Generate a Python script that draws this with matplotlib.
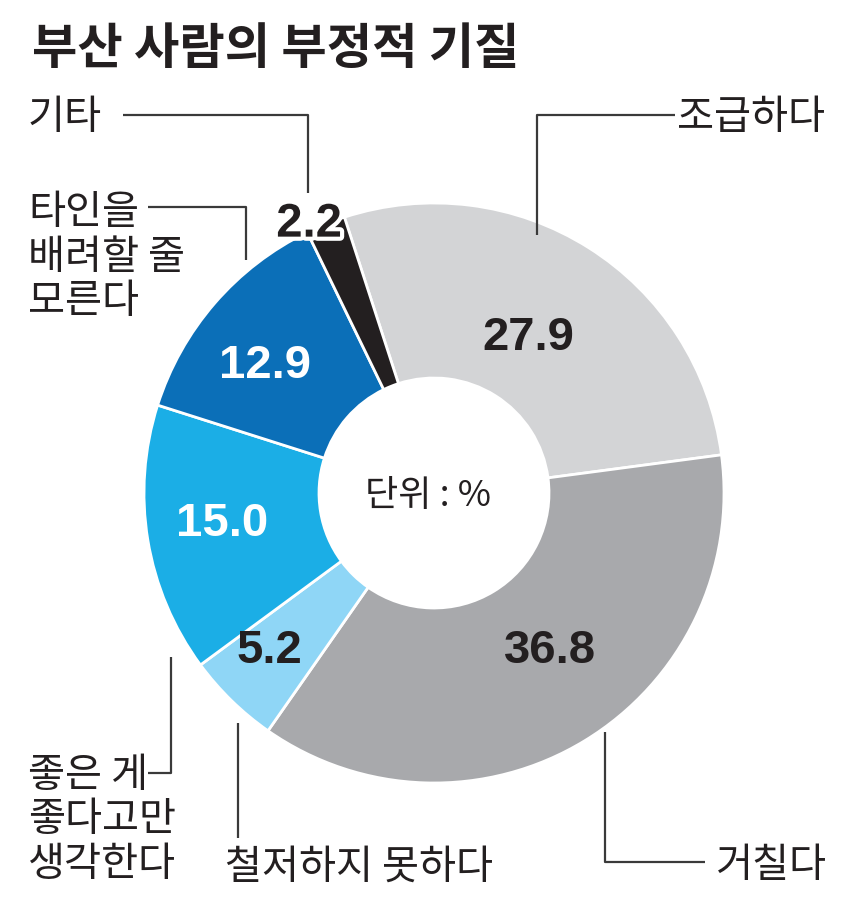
import numpy as np
import matplotlib
matplotlib.use("Agg")
import matplotlib.pyplot as plt
import matplotlib.patheffects as pe

plt.rcParams['font.family'] = ['Noto Sans CJK KR', 'DejaVu Sans']

title = "부산 사람의 부정적 기질"
unitText = "단위 : %"

# clockwise from the top
categories = ["조급하다", "거칠다", "철저하지 못하다", "좋은 게\n좋다고만\n생각한다", "타인을\n배려할 줄\n모른다", "기타"]
values = [27.9, 36.8, 5.2, 15.0, 12.9, 2.2]
colors = ["#d3d4d6", "#a8a9ac", "#8fd6f6", "#1baee6", "#0b6fb8", "#231f20"]
numColors = ["#231f20", "#231f20", "#231f20", "white", "white", "#231f20"]
numRadius = [181, 196, 228, 214, 211, 296]
numShift = [1, 5, -2, -1, 4, 3]   # degrees, turning the label off the wedge middle

W, H = 850, 913
cx, cy = 434, 493
rOuter, rInner = 290, 115

fig = plt.figure(figsize=(W / 100, H / 100), dpi=100)
ax = fig.add_axes([0, 0, 1, 1])

# y axis runs downward (pixel-like), so the pie turns clockwise with counterclock=True
startAngle = -108
wedges, _ = ax.pie(values, colors=colors, startangle=startAngle, counterclock=True,
                   center=(cx, cy), radius=rOuter, frame=True,
                   wedgeprops=dict(width=rOuter - rInner, edgecolor="white", linewidth=2))

ax.set_xlim(0, W)
ax.set_ylim(H, 0)
ax.set_aspect("equal")
ax.axis("off")

# value labels near the middle of each wedge
total = sum(values)
angle = startAngle
for val, col, r, sh in zip(values, numColors, numRadius, numShift):
	mid = np.deg2rad(angle + val / total * 360 / 2 - sh)
	angle += val / total * 360
	tx = cx + r * np.cos(mid)
	ty = cy + r * np.sin(mid)
	t = ax.text(tx, ty, "%.1f" % val, color=col, fontsize=34, fontweight="bold",
				family="Liberation Sans", ha="center", va="center")
	if val < 3:
		t.set_path_effects([pe.withStroke(linewidth=6, foreground="white")])

ax.text(cx - 6, cy + 3, unitText, fontsize=26, color="#231f20", ha="center", va="center")

ax.text(32, 49, title, fontsize=35.5, fontweight="bold", color="#231f20", ha="left", va="center")

# category labels and leader lines
lineColor = "#3a3a3a"
labelSize = 29
labelSpec = [
	# text, x, y, leader path
	(categories[0], 677, 117, [(675, 115), (537, 115), (537, 235)]),
	(categories[1], 716, 866, [(705, 862), (605, 862), (605, 732)]),
	(categories[2], 225, 867, [(238, 838), (238, 723)]),
	(categories[3], 28, 820, [(148, 773), (171, 773), (171, 657)]),
	(categories[4], 28, 257, [(148, 207), (246, 207), (246, 260)]),
	(categories[5], 28, 117, [(123, 115), (308, 115), (308, 193)]),
]
for txt, x, y, path in labelSpec:
	ax.text(x, y, txt, fontsize=labelSize, color="#231f20", ha="left", va="center",
			linespacing=1.1)
	xs = [p[0] for p in path]
	ys = [p[1] for p in path]
	ax.plot(xs, ys, color=lineColor, lw=1.6, solid_capstyle="butt")

plt.savefig("out.png", dpi=100)
